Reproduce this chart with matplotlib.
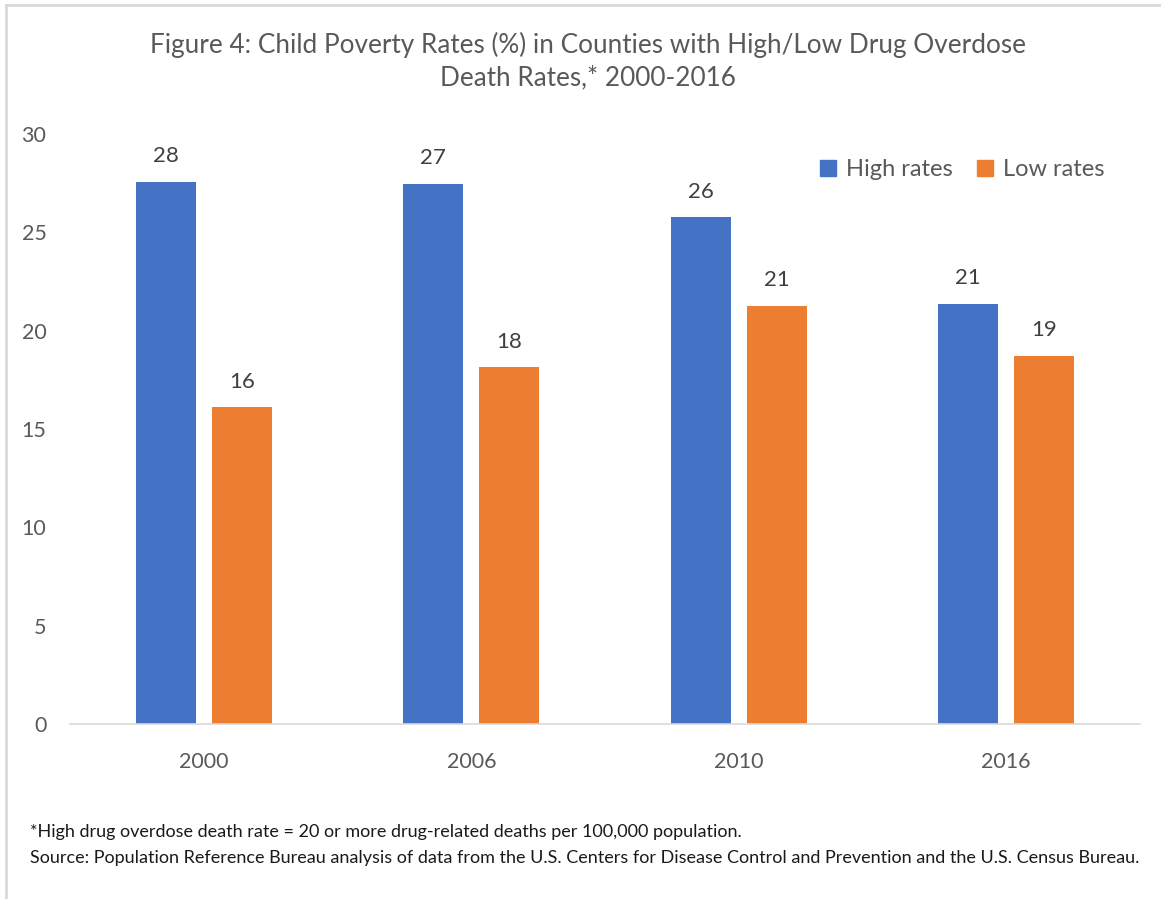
import matplotlib.pyplot as plt
import numpy as np
from matplotlib.lines import Line2D

plt.rcParams['font.family'] = ['Lato', 'DejaVu Sans']

# Child poverty rates (%) by county overdose group
years = ["2000", "2006", "2010", "2016"]
high_rates = [27.55, 27.45, 25.76, 21.37]
low_rates = [16.1, 18.13, 21.25, 18.73]

blue = "#4472C4"
orange = "#ED7D31"
grey_text = "#595959"

fig = plt.figure(figsize=(11.61, 8.99), dpi=100)
ax = fig.add_axes([70 / 1161, 1 - 724 / 899, 1070 / 1161, 590 / 899])

x = np.arange(len(years))
width = 0.224
offset = 0.142
b1 = ax.bar(x - offset, high_rates, width, color=blue, label="High rates")
b2 = ax.bar(x + offset, low_rates, width, color=orange, label="Low rates")

# value labels above each bar
for bars in (b1, b2):
    for rect in bars:
        h = rect.get_height()
        ax.annotate(f"{h:.0f}", (rect.get_x() + rect.get_width() / 2, h),
                    xytext=(0, 18.5), textcoords="offset points",
                    ha="center", va="center", fontsize=16, color="#404040")

ax.set_xlim(-0.5, 3.5)
ax.set_ylim(0, 30)
ax.set_yticks(range(0, 31, 5))
ax.set_xticks(x)
ax.set_xticklabels(years)
ax.tick_params(axis="both", length=0, labelsize=15.5, labelcolor=grey_text)
ax.tick_params(axis="x", pad=20)
ax.tick_params(axis="y", pad=17)

for side in ("top", "right", "left"):
    ax.spines[side].set_visible(False)
ax.spines["bottom"].set_color("#D9D9D9")
ax.spines["bottom"].set_linewidth(1.2)

handles = [Line2D([], [], marker="s", linestyle="none", markersize=12,
                  markerfacecolor=c, markeredgecolor=c) for c in (blue, orange)]
leg = ax.legend(handles, ["High rates", "Low rates"], loc="center right",
                bbox_to_anchor=(0.967, (724 - 170) / 590), ncol=2, frameon=False,
                fontsize=17, handlelength=0.8, handletextpad=0.35,
                columnspacing=1.0, borderaxespad=0, borderpad=0)
for t in leg.get_texts():
    t.set_color(grey_text)

fig.text(588 / 1161, 1 - 61 / 899,
         "Figure 4: Child Poverty Rates (%) in Counties with High/Low Drug Overdose\nDeath Rates,* 2000-2016",
         ha="center", va="center", multialignment="center", fontsize=18.8,
         color=grey_text, linespacing=1.4)

fig.text(30 / 1161, 1 - 832 / 899,
         "*High drug overdose death rate = 20 or more drug-related deaths per 100,000 population.",
         ha="left", va="center", fontsize=13, color="#1a1a1a")
fig.text(30 / 1161, 1 - 858 / 899,
         "Source: Population Reference Bureau analysis of data from the U.S. Centers for Disease Control and Prevention and the U.S. Census Bureau.",
         ha="left", va="center", fontsize=13, color="#1a1a1a")

# thin frame along the top and left edges of the figure
fig.add_artist(Line2D([6 / 1161, 1], [1 - 5 / 899, 1 - 5 / 899],
                      transform=fig.transFigure, color="#D9D9D9", linewidth=2))
fig.add_artist(Line2D([6 / 1161, 6 / 1161], [0, 1 - 5 / 899],
                      transform=fig.transFigure, color="#D9D9D9", linewidth=2))

fig.savefig("out.png", dpi=100)
